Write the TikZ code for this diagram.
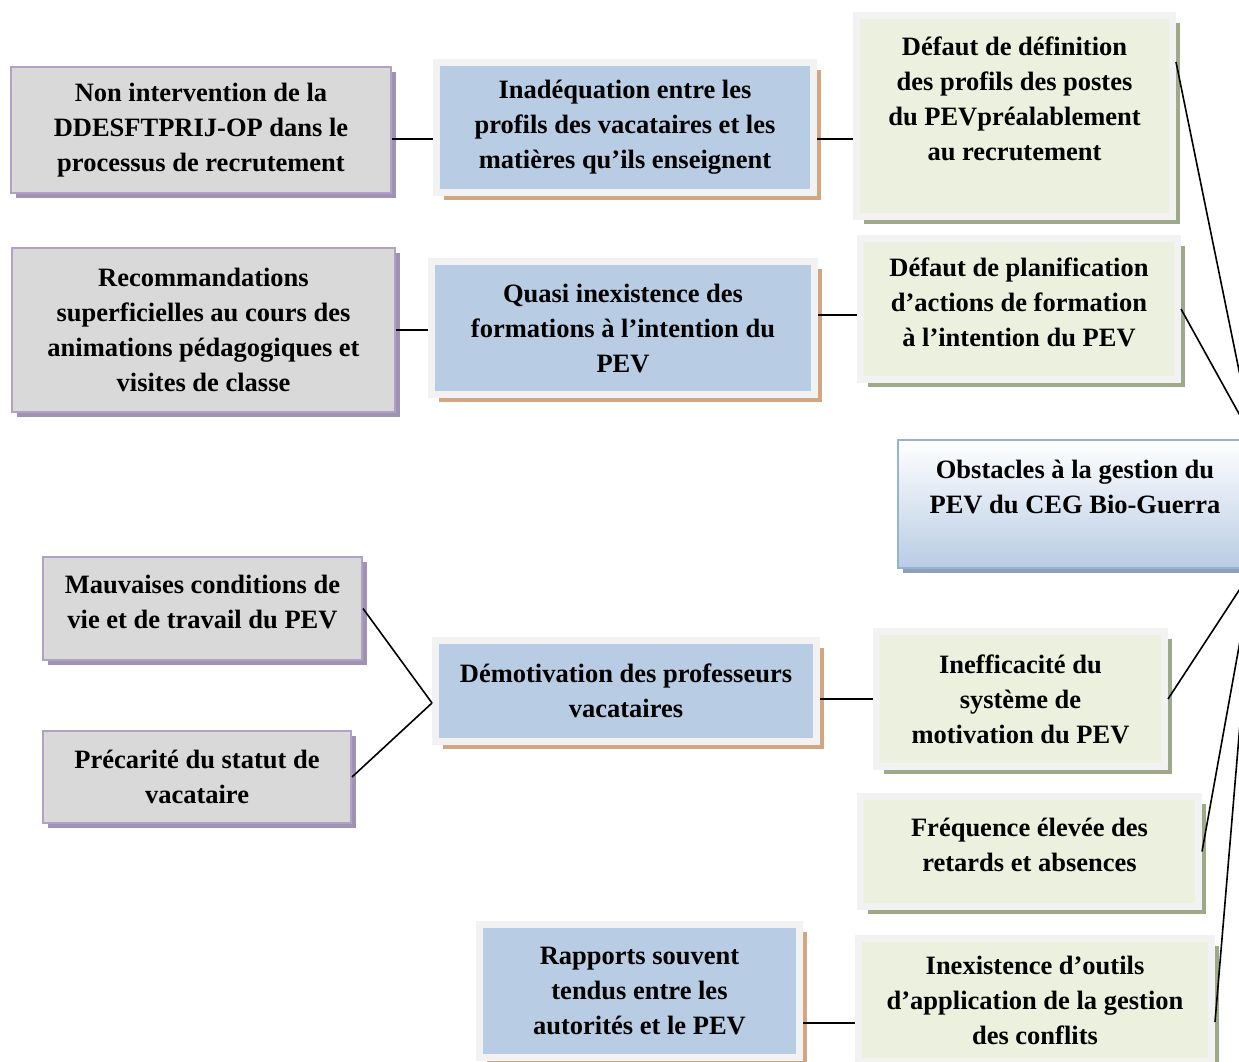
\documentclass[tikz,border=0pt]{standalone}
\usepackage{fontspec}
\setmainfont{Liberation Serif}
\usetikzlibrary{shadows}
\definecolor{grisF}{RGB}{217,217,217}
\definecolor{violetB}{RGB}{178,161,199}
\definecolor{violetS}{RGB}{160,146,178}
\definecolor{cadre}{RGB}{242,242,242}
\definecolor{bleuF}{RGB}{184,204,228}
\definecolor{bleuB}{RGB}{149,179,215}
\definecolor{tanS}{RGB}{210,166,131}
\definecolor{vertF}{RGB}{235,241,222}
\definecolor{vertS}{RGB}{158,169,138}
\definecolor{grisS}{RGB}{143,160,182}

\tikzset{
  boite/.style={align=center,font=\fontsize{26.5}{35}\selectfont\bfseries,inner sep=0pt},
  grisbox/.style={boite,fill=grisF,draw=violetB,line width=2pt,
    drop shadow={shadow xshift=5pt,shadow yshift=-5pt,fill=violetS,opacity=1}},
  bleubox/.style={boite,fill=bleuF,draw=cadre,line width=7pt,
    drop shadow={shadow xshift=7pt,shadow yshift=-7pt,fill=tanS,opacity=1}},
  vertbox/.style={boite,fill=vertF,draw=cadre,line width=7pt,
    drop shadow={shadow xshift=7pt,shadow yshift=-7pt,fill=vertS,opacity=1}},
  centrebox/.style={boite,top color=white,bottom color=bleuF,draw=bleuB,line width=2pt,
    drop shadow={shadow xshift=5pt,shadow yshift=-5pt,fill=grisS,opacity=1}},
  lien/.style={line width=1.6pt}
}

\begin{document}
\begin{tikzpicture}[x=1pt,y=-1pt]
\path[use as bounding box] (0,0) rectangle (1239,1061);
\clip (0,0) rectangle (1239,1061);
% top rows
\node[grisbox,minimum width=380pt,minimum height=126pt] (nonint) at (201,130) {Non intervention de la\\DDESFTPRIJ-OP dans le\\processus de recrutement};
\node[bleubox,minimum width=377pt,minimum height=130pt] (inadeq) at (625,127.5) {Inadéquation entre les\\profils des vacataires et les\\matières qu’ils enseignent};
\node[vertbox,minimum width=316pt,minimum height=201pt] (defdef) at (1014.5,116) {Défaut de définition\\des profils des postes\\du PEVpréalablement\\au recrutement\\\mbox{}};
\node[grisbox,minimum width=383pt,minimum height=164pt] (recom) at (203.5,330) {Recommandations\\superficielles au cours des\\animations pédagogiques et\\visites de classe};
\node[bleubox,minimum width=383pt,minimum height=133pt] (quasi) at (623,328) {Quasi inexistence des\\formations à l’intention du\\PEV};
\node[vertbox,minimum width=317pt,minimum height=141pt] (defplan) at (1019,309) {Défaut de planification\\d’actions de formation\\à l’intention du PEV\\[-21pt]\mbox{}};
% central box, cut by the right edge
\node[centrebox,minimum width=354pt,minimum height=128pt] (obst) at (1075,504) {Obstacles à la gestion du\\PEV du CEG Bio-Guerra\\\mbox{}};
% bottom rows
\node[grisbox,minimum width=319pt,minimum height=103pt] (mauv) at (202.5,608.5) {Mauvaises conditions de\\vie et de travail du PEV\\[-21pt]\mbox{}};
\node[grisbox,minimum width=308pt,minimum height=92pt] (preca) at (197,777) {Précarité du statut de\\vacataire};
\node[bleubox,minimum width=381pt,minimum height=101pt] (demot) at (626,691) {Démotivation des professeurs\\vacataires};
\node[vertbox,minimum width=288pt,minimum height=135pt] (ineff) at (1020.5,699) {Inefficacité du\\système de\\motivation du PEV};
\node[vertbox,minimum width=338pt,minimum height=110pt] (freq) at (1029.5,851.5) {Fréquence élevée des\\retards et absences\\[-21pt]\mbox{}};
\node[bleubox,minimum width=320pt,minimum height=133pt] (rapp) at (639.5,991) {Rapports souvent\\tendus entre les\\autorités et le PEV};
\node[vertbox,minimum width=353pt,minimum height=123pt] (inex) at (1035,1000) {Inexistence d’outils\\d’application de la gestion\\des conflits};
% links
\draw[lien] ([yshift=-9pt]nonint.east) -- ([yshift=-9pt]nonint.east -| inadeq.west);
\draw[lien] ([yshift=-9pt]nonint.east -| inadeq.east) -- ([yshift=-9pt]nonint.east -| defdef.west);
\draw[lien] (recom.east) -- (recom.east -| quasi.west);
\draw[lien] ([yshift=13pt]quasi.east) -- ([yshift=13pt]quasi.east -| defplan.west);
\draw[lien] (mauv.east) -- ([yshift=-12pt]demot.west);
\draw[lien] (preca.east) -- ([yshift=-12pt]demot.west);
\draw[lien] (ineff.west -| demot.east) -- (ineff.west);
\draw[lien] ([yshift=-32pt]rapp.east) -- ([yshift=-32pt]rapp.east -| inex.west);
\draw[lien] ([yshift=54pt]defdef.east) -- (obst.north east);
\draw[lien] (defplan.east) -- (obst.north east);
\draw[lien] (ineff.east) -- (obst.south east);
\draw[lien] (freq.east) -- (obst.south east);
\draw[lien] ([yshift=-22pt]inex.east) -- (obst.south east);
\end{tikzpicture}
\end{document}
